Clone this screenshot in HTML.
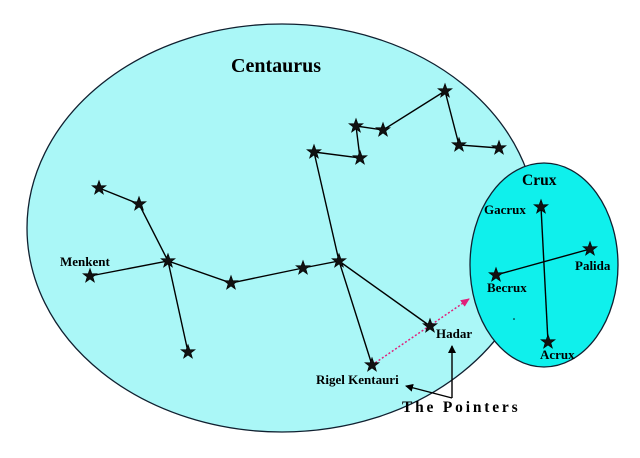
<!DOCTYPE html>
<html><head><meta charset="utf-8"><style>
html,body{margin:0;padding:0;background:#fff;}
svg{display:block;}
text{font-family:"Liberation Serif",serif;font-weight:bold;fill:#000;}
</style></head><body>
<svg width="640" height="458" viewBox="0 0 640 458" xmlns="http://www.w3.org/2000/svg">
<defs>
<polygon id="s" points="0,-7.5 1.8,-2.4 7.1,-2.3 2.9,0.9 4.4,6.1 0,3 -4.4,6.1 -2.9,0.9 -7.1,-2.3 -1.8,-2.4" fill="#111" stroke="#000" stroke-width="0.6"/>
<marker id="a" markerWidth="8" markerHeight="8" refX="7" refY="4" orient="auto" markerUnits="userSpaceOnUse"><path d="M0,0 L8,4 L0,8 Z" fill="#000"/></marker>
<marker id="p" markerWidth="9" markerHeight="8" refX="8" refY="4" orient="auto" markerUnits="userSpaceOnUse"><path d="M0,0 L9,4 L0,8 Z" fill="#e0207a"/></marker>
</defs>
<ellipse cx="282" cy="228" rx="255" ry="204" fill="#aaf7f7" stroke="#102030" stroke-width="1.3"/>
<ellipse cx="544" cy="265" rx="74" ry="102" fill="#0ff0ec" stroke="#102030" stroke-width="1.3"/>
<g stroke="#000" stroke-width="1.4" fill="none">
<polyline points="99,188 139,204 168,261 188,352"/>
<polyline points="90,276 168,261 231,283 303,268 339,261 430,326"/>
<polyline points="372,365 339,261 314,152 360,158 356,126 383,130 445,91 459,145 499,148"/>
<line x1="541" y1="207" x2="548" y2="342"/>
<line x1="496" y1="275" x2="590" y2="249"/>
<line x1="452" y1="398" x2="452" y2="346" marker-end="url(#a)"/>
<line x1="452" y1="398" x2="406" y2="386" marker-end="url(#a)"/>
</g>
<line x1="372" y1="365" x2="469" y2="299" stroke="#e0207a" stroke-width="1.4" stroke-dasharray="2,2" marker-end="url(#p)"/>
<g>
<use href="#s" x="99" y="188"/><use href="#s" x="139" y="204"/><use href="#s" x="168" y="261"/>
<use href="#s" x="90" y="276"/><use href="#s" x="188" y="352"/><use href="#s" x="231" y="283"/>
<use href="#s" x="303" y="268"/><use href="#s" x="339" y="261"/><use href="#s" x="314" y="152"/>
<use href="#s" x="360" y="158"/><use href="#s" x="356" y="126"/><use href="#s" x="383" y="130"/>
<use href="#s" x="445" y="91"/><use href="#s" x="459" y="145"/><use href="#s" x="499" y="148"/>
<use href="#s" x="430" y="326"/><use href="#s" x="372" y="365"/>
<use href="#s" x="541" y="207"/><use href="#s" x="590" y="249"/><use href="#s" x="496" y="275"/><use href="#s" x="548" y="342"/>
</g>
<circle cx="514" cy="319" r="0.8" fill="#000"/>
<text x="231" y="72" font-size="20">Centaurus</text>
<text x="522" y="185" font-size="15.5">Crux</text>
<text x="484" y="214" font-size="13">Gacrux</text>
<text x="575" y="270" font-size="13">Palida</text>
<text x="487" y="292" font-size="13">Becrux</text>
<text x="540" y="359" font-size="13">Acrux</text>
<text x="60" y="266" font-size="13">Menkent</text>
<text x="436" y="338" font-size="13">Hadar</text>
<text x="316" y="384" font-size="13">Rigel Kentauri</text>
<text x="402" y="412" font-size="15.5" letter-spacing="2.8">The Pointers</text>
</svg>
</body></html>
